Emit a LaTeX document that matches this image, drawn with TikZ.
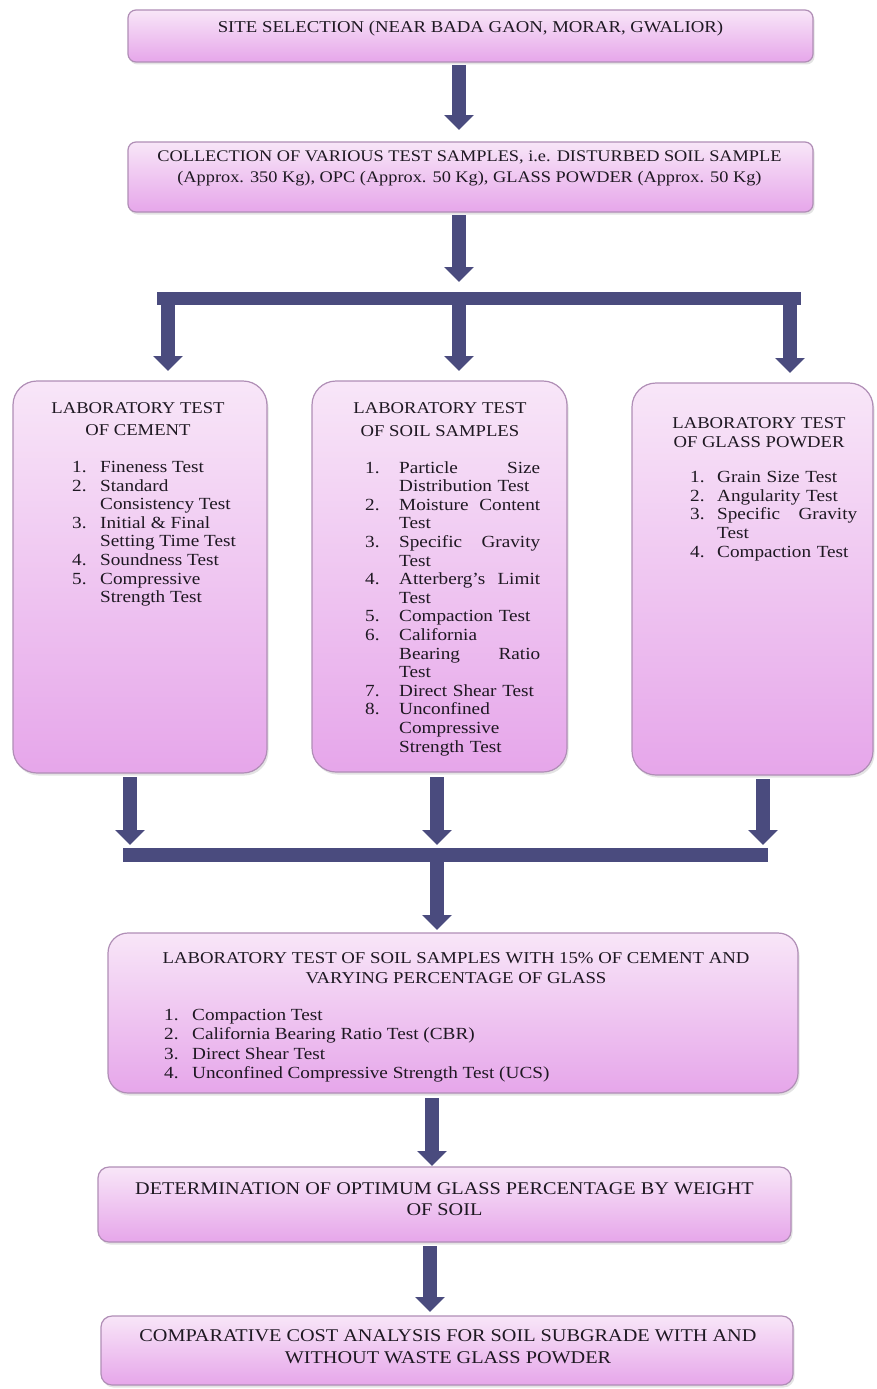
\documentclass[tikz,border=0pt]{standalone}
\usepackage{fontspec}
\setmainfont{Liberation Serif}[FakeStretch=1.13]
\usetikzlibrary{arrows.meta,shadows}
\definecolor{arrowc}{HTML}{4A4B7E}
\definecolor{boxtop}{HTML}{F8E6F8}
\definecolor{boxbot}{HTML}{E6A6EA}
\definecolor{boxline}{HTML}{B08EB6}
\definecolor{txt}{HTML}{1E1822}
\begin{document}
\begin{tikzpicture}[x=1pt,y=-1pt,
  pbox/.style={draw=boxline, line width=1.2pt, top color=boxtop, bottom color=boxbot,
    drop shadow={opacity=0.22, shadow xshift=1.5pt, shadow yshift=-2.5pt},
    inner sep=0pt, outer sep=0pt},
  big/.style={font=\fontsize{16.6}{20.5}\selectfont\parindent0pt, text=txt, inner sep=0pt, align=center},
  lst/.style={font=\fontsize{17}{18.6}\selectfont\parindent0pt, text=txt, inner sep=0pt, align=left},
  arr/.style={draw=arrowc, line width=14pt, -{Triangle[width=29pt,length=15pt]}},
  barline/.style={draw=arrowc, line width=13.5pt},
]
\useasboundingbox (0,0) rectangle (877,1389);
\fill[white] (0,0) rectangle (877,1389);

% ---------- boxes ----------
\node[pbox, rounded corners=8pt, minimum width=685pt, minimum height=52pt] (b1) at (470.5,36) {};
\node[pbox, rounded corners=8pt, minimum width=685pt, minimum height=70pt] (b2) at (470.5,177) {};
\node[pbox, rounded corners=24pt, minimum width=254pt, minimum height=392pt] (c1) at (140,577) {};
\node[pbox, rounded corners=24pt, minimum width=255pt, minimum height=391pt] (c2) at (439.5,576.5) {};
\node[pbox, rounded corners=24pt, minimum width=241pt, minimum height=392pt] (c3) at (752.5,579) {};
\node[pbox, rounded corners=20pt, minimum width=690pt, minimum height=160pt] (b5) at (453,1013) {};
\node[pbox, rounded corners=11pt, minimum width=693pt, minimum height=75pt] (b6) at (444.5,1204.5) {};
\node[pbox, rounded corners=11pt, minimum width=692pt, minimum height=69pt] (b7) at (447,1350.5) {};

% ---------- texts ----------
\node[big] (t1) at (470.5,29) {SITE SELECTION (NEAR BADA GAON, MORAR, GWALIOR)};
\node[big, font=\fontsize{16.2}{20.5}\selectfont] (t2) at (469.5,168.5) {COLLECTION OF VARIOUS TEST SAMPLES, i.e. DISTURBED SOIL SAMPLE\\(Approx. 350 Kg), OPC (Approx. 50 Kg), GLASS POWDER (Approx. 50 Kg)};

\node[big, font=\fontsize{16.5}{21.5}\selectfont] (t3a) at (138,419) {LABORATORY TEST\\OF CEMENT};
\node[lst, anchor=north west] (t3b) at (72,461) {%
\makebox[28pt][l]{1.}Fineness Test\\
\makebox[28pt][l]{2.}Standard\\
\hspace*{28pt}Consistency Test\\
\makebox[28pt][l]{3.}Initial \& Final\\
\hspace*{28pt}Setting Time Test\\
\makebox[28pt][l]{4.}Soundness Test\\
\makebox[28pt][l]{5.}Compressive\\
\hspace*{28pt}Strength Test};

\node[big, font=\fontsize{16.5}{23}\selectfont] (t4a) at (440,420) {LABORATORY TEST\\OF SOIL SAMPLES};
\node[lst, text width=175pt, anchor=north west] (t4b) at (365,461) {%
\makebox[34pt][l]{1.}Particle\hfill Size\\
\hspace*{34pt}Distribution Test\\
\makebox[34pt][l]{2.}Moisture\hfill Content\\
\hspace*{34pt}Test\\
\makebox[34pt][l]{3.}Specific\hfill Gravity\\
\hspace*{34pt}Test\\
\makebox[34pt][l]{4.}Atterberg's\hfill Limit\\
\hspace*{34pt}Test\\
\makebox[34pt][l]{5.}Compaction Test\\
\makebox[34pt][l]{6.}California\\
\hspace*{34pt}Bearing\hfill Ratio\\
\hspace*{34pt}Test\\
\makebox[34pt][l]{7.}Direct Shear Test\\
\makebox[34pt][l]{8.}Unconfined\\
\hspace*{34pt}Compressive\\
\hspace*{34pt}Strength Test};

\node[big, font=\fontsize{16.5}{19.5}\selectfont] (t5a) at (759,432.5) {LABORATORY TEST\\OF GLASS POWDER};
\node[lst, font=\fontsize{17}{18.75}\selectfont\parindent0pt, text width=167pt, anchor=north west] (t5b) at (690,471) {%
\makebox[27pt][l]{1.}Grain Size Test\\
\makebox[27pt][l]{2.}Angularity Test\\
\makebox[27pt][l]{3.}Specific\hfill Gravity\\
\hspace*{27pt}Test\\
\makebox[27pt][l]{4.}Compaction Test};

\node[big] (t6a) at (456,968) {LABORATORY TEST OF SOIL SAMPLES WITH 15\% OF CEMENT AND\\VARYING PERCENTAGE OF GLASS};
\node[lst, font=\fontsize{17}{19.3}\selectfont\parindent0pt, anchor=north west] (t6b) at (164,1009) {%
\makebox[28pt][l]{1.}Compaction Test\\
\makebox[28pt][l]{2.}California Bearing Ratio Test (CBR)\\
\makebox[28pt][l]{3.}Direct Shear Test\\
\makebox[28pt][l]{4.}Unconfined Compressive Strength Test (UCS)};

\node[big, font=\fontsize{17.9}{21.5}\selectfont] (t7) at (444.5,1199) {DETERMINATION OF OPTIMUM GLASS PERCENTAGE BY WEIGHT\\OF SOIL};
\node[big, font=\fontsize{17.9}{22}\selectfont] (t8) at (448,1347) {COMPARATIVE COST ANALYSIS FOR SOIL SUBGRADE WITH AND\\WITHOUT WASTE GLASS POWDER};

% ---------- bars ----------
\coordinate (bar1L) at (157,298.5);
\coordinate (bar1R) at (801,298.5);
\coordinate (bar2L) at (123,855);
\coordinate (bar2R) at (768,855);
\draw[barline] (bar1L) -- (bar1R);
\draw[barline] (bar2L) -- (bar2R);

% ---------- connectors ----------
\draw[arr, shorten <=3pt, shorten >=12pt] (b1.south -| 459,0) -- (b2.north -| 459,0);
\draw[arr, shorten <=3pt, shorten >=16.5pt] (b2.south -| 459,0) -- (bar1L -| 459,0);
\draw[arr, shorten >=10pt] (bar1L -| 168,0) -- (c1.north -| 168,0);
\draw[arr, shorten >=10pt] (bar1L -| 459,0) -- (c2.north -| 459,0);
\draw[arr, shorten >=10pt] (bar1L -| 790,0) -- (c3.north -| 790,0);
\draw[arr, shorten <=4pt, shorten >=10pt] (c1.south -| 130,0) -- (bar2L -| 130,0);
\draw[arr, shorten <=5pt, shorten >=10pt] (c2.south -| 437,0) -- (bar2L -| 437,0);
\draw[arr, shorten <=4pt, shorten >=10pt] (c3.south -| 763,0) -- (bar2L -| 763,0);
\draw[arr, shorten >=3pt] (bar2L -| 437,0) -- (b5.north -| 437,0);
\draw[arr, shorten <=5pt, shorten >=1pt] (b5.south -| 432,0) -- (b6.north -| 432,0);
\draw[arr, shorten <=4pt, shorten >=4pt] (b6.south -| 430,0) -- (b7.north -| 430,0);
\end{tikzpicture}
\end{document}
